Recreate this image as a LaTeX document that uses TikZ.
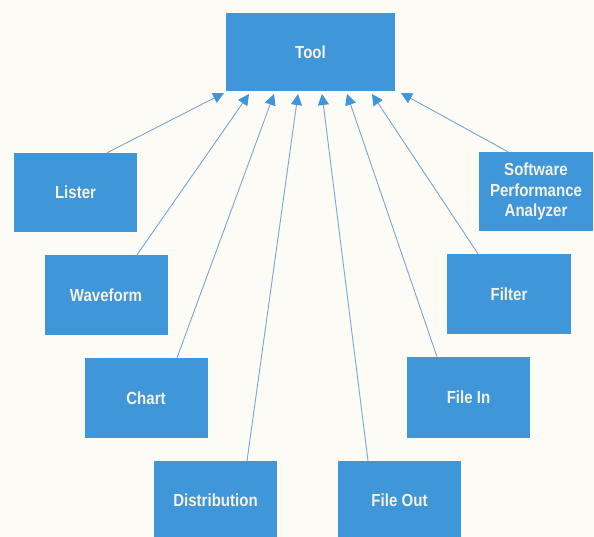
\documentclass[tikz,border=0pt]{standalone}
\usepackage{fontspec}
\setmainfont{Liberation Sans}[FakeStretch=0.86]
\usetikzlibrary{arrows.meta}
\definecolor{boxblue}{HTML}{3F96D8}
\definecolor{linecol}{HTML}{78A8D0}
\definecolor{txtcol}{HTML}{F5F1DE}
\definecolor{bg}{HTML}{FCFBF5}
\tikzset{
  blk/.style={fill=boxblue, draw=none, minimum width=123pt, minimum height=80pt,
    inner sep=0pt, text=txtcol, font=\fontsize{17.5}{20.5}\selectfont\bfseries, align=center},
  conn/.style={draw=linecol, line width=0.9pt,
    -{Triangle[length=11pt,width=11pt,color=boxblue]}}
}
\begin{document}
\begin{tikzpicture}[x=1pt,y=-1pt]
\fill[bg] (0,0) rectangle (594,537);
\useasboundingbox (0,0) rectangle (594,537);
\node[blk, minimum width=169pt, minimum height=78pt] (tool) at (310.5,52) {Tool};
\node[blk, minimum height=79pt] (lister) at (75.5,192.5) {Lister};
\node[blk] (wave) at (106,295) {Waveform};
\node[blk] (chart) at (146,398) {Chart};
\node[blk, minimum height=78pt] (dist) at (215.5,500) {Distribution};
\node[blk, minimum height=78pt] (fout) at (399.5,500) {File Out};
\node[blk, minimum height=81pt] (fin) at (468.5,397.5) {File In};
\node[blk, minimum width=124pt] (filter) at (509,294) {Filter};
\node[blk, minimum width=114pt, minimum height=79pt] (spa) at (536,191.5) {Software\\Performance\\Analyzer};
\coordinate (t1) at (224,93);
\coordinate (t2) at (249,94);
\coordinate (t3) at (274,94);
\coordinate (t4) at (298,94);
\coordinate (t5) at (322,94);
\coordinate (t6) at (347,94);
\coordinate (t7) at (372,94);
\coordinate (t8) at (401,93);
\draw[conn] ([xshift=31.5pt]lister.north) -- (t1);
\draw[conn] ([xshift=31pt]wave.north) -- (t2);
\draw[conn] ([xshift=31pt]chart.north) -- (t3);
\draw[conn] ([xshift=31.5pt]dist.north) -- (t4);
\draw[conn] ([xshift=-31.5pt]fout.north) -- (t5);
\draw[conn] ([xshift=-31.5pt]fin.north) -- (t6);
\draw[conn] ([xshift=-31pt]filter.north) -- (t7);
\draw[conn] ([xshift=-28pt]spa.north) -- (t8);
\end{tikzpicture}
\end{document}
